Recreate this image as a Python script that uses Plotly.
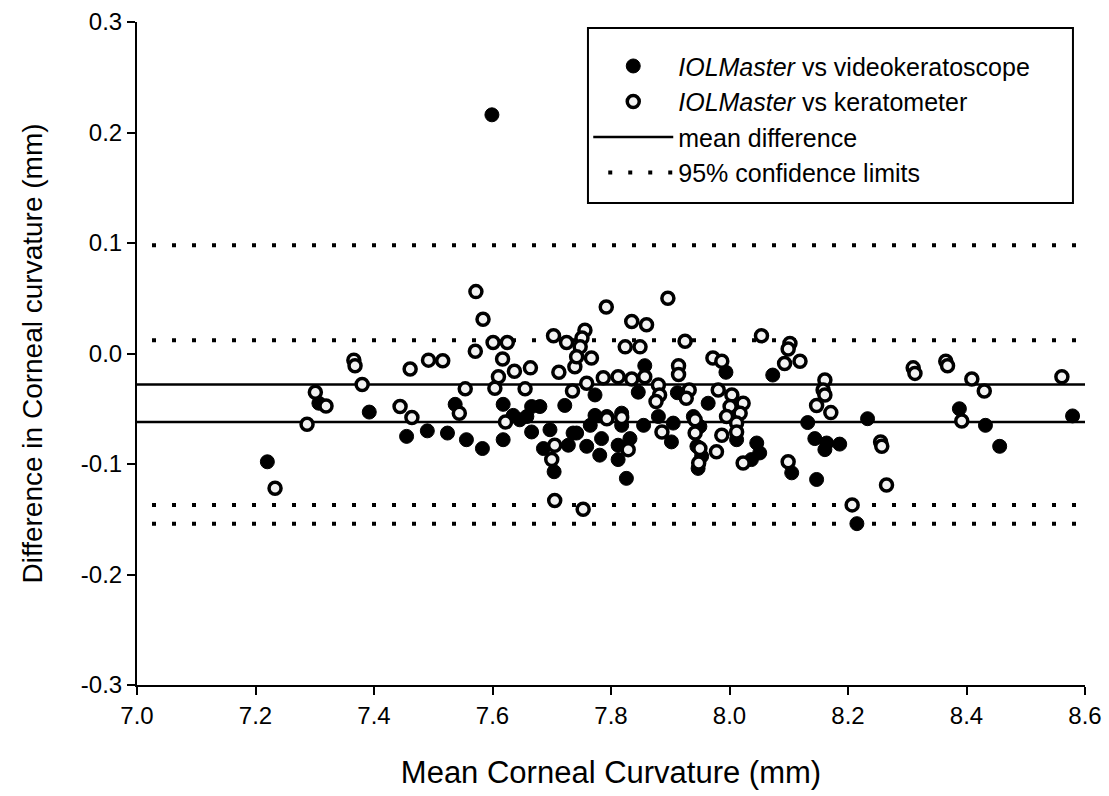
import plotly.graph_objects as go

# IOLMaster vs videokeratoscope (filled)
vk_x = [7.22, 7.307, 7.392, 7.455, 7.49, 7.524, 7.537, 7.556, 7.583, 7.599, 7.618, 7.618,
        7.635, 7.646, 7.658, 7.666, 7.680, 7.666, 7.697, 7.722, 7.736, 7.686, 7.728, 7.704,
        7.742, 7.759, 7.784, 7.812, 7.832, 7.781, 7.812, 7.902, 7.826, 7.945, 7.953, 7.947,
        8.012, 8.046, 8.037, 8.051, 7.773, 7.765, 7.793, 7.818, 7.818, 7.855, 7.880, 7.905,
        7.939, 7.950, 7.994, 7.857, 7.846, 7.773, 7.912, 7.964, 8.073, 8.132, 8.233, 8.144,
        8.164, 8.161, 8.186, 8.105, 8.147, 8.215, 8.388, 8.432, 8.456, 8.579]
vk_y = [-0.098, -0.045, -0.053, -0.075, -0.070, -0.072, -0.046, -0.078, -0.086, 0.216, -0.046, -0.078,
        -0.056, -0.060, -0.057, -0.048, -0.048, -0.071, -0.069, -0.047, -0.072, -0.086, -0.083, -0.107,
        -0.072, -0.084, -0.077, -0.083, -0.077, -0.092, -0.096, -0.080, -0.113, -0.084, -0.093, -0.104,
        -0.078, -0.081, -0.096, -0.090, -0.056, -0.065, -0.057, -0.054, -0.065, -0.065, -0.057, -0.063,
        -0.057, -0.066, -0.017, -0.011, -0.035, -0.0375, -0.0355, -0.045, -0.0195, -0.0625, -0.059, -0.077,
        -0.081, -0.087, -0.082, -0.108, -0.114, -0.154, -0.050, -0.065, -0.084, -0.0565]

# IOLMaster vs keratometer (open)
kt_x = [7.366, 7.368, 7.380, 7.301, 7.319, 7.287, 7.233, 7.572, 7.584, 7.571, 7.601, 7.625,
        7.492, 7.516, 7.461, 7.617, 7.637, 7.664, 7.610, 7.703, 7.725, 7.712, 7.739, 7.554,
        7.604, 7.655, 7.735, 7.444, 7.464, 7.544, 7.622, 7.705, 7.700, 7.705, 7.753, 7.792,
        7.896, 7.835, 7.860, 7.756, 7.751, 7.748, 7.824, 7.849, 7.925, 8.054, 7.742, 7.767,
        7.972, 7.987, 7.914, 7.914, 7.787, 7.812, 7.835, 7.857, 7.759, 7.880, 7.882, 7.876,
        7.932, 7.927, 7.981, 8.004, 8.023, 8.001, 8.018, 7.995, 8.012, 7.793, 7.818, 7.942,
        7.886, 7.942, 7.829, 7.950, 7.948, 7.978, 7.987, 8.012, 8.023, 8.102, 8.099, 8.093,
        8.119, 8.310, 8.313, 8.161, 8.158, 8.161, 8.147, 8.171, 8.255, 8.257, 8.099, 8.265,
        8.207, 8.365, 8.368, 8.409, 8.430, 8.561, 8.392]
kt_y = [-0.006, -0.011, -0.028, -0.035, -0.0475, -0.064, -0.122, 0.056, 0.031, 0.002, 0.010, 0.010,
        -0.006, -0.0065, -0.014, -0.005, -0.016, -0.013, -0.021, 0.016, 0.010, -0.017, -0.012, -0.032,
        -0.0315, -0.032, -0.034, -0.048, -0.058, -0.054, -0.062, -0.083, -0.096, -0.133, -0.141, 0.042,
        0.050, 0.029, 0.026, 0.021, 0.014, 0.006, 0.006, 0.006, 0.011, 0.016, -0.003, -0.004,
        -0.004, -0.007, -0.011, -0.019, -0.022, -0.021, -0.023, -0.021, -0.027, -0.0285, -0.0375, -0.0435,
        -0.033, -0.0405, -0.033, -0.0375, -0.045, -0.048, -0.054, -0.057, -0.063, -0.059, -0.058, -0.060,
        -0.071, -0.072, -0.087, -0.086, -0.099, -0.089, -0.074, -0.071, -0.099, 0.009, 0.004, -0.009,
        -0.007, -0.013, -0.018, -0.024, -0.033, -0.0375, -0.047, -0.0535, -0.080, -0.084, -0.098, -0.119,
        -0.137, -0.007, -0.011, -0.023, -0.034, -0.021, -0.061]

# Reference lines
line_x = [7.0, 8.6]
mean_kt = -0.028
limits_kt = [0.098, -0.154]
mean_vk = -0.062
limits_vk = [0.012, -0.137]

x_ticks = [7.0, 7.2, 7.4, 7.6, 7.8, 8.0, 8.2, 8.4, 8.6]
y_ticks = [-0.3, -0.2, -0.1, 0.0, 0.1, 0.2, 0.3]

FONT = "Liberation Sans, Arial, sans-serif"
DOT = "0px,15px,4px,1px"

fig = go.Figure()

# limit lines
first = True
for lim in limits_kt + limits_vk:
    fig.add_trace(go.Scatter(
        x=line_x, y=[lim, lim], mode="lines",
        line=dict(color="black", width=4, dash=DOT),
        name="95% confidence limits", legendgroup="lim", legendrank=4,
        showlegend=first, hoverinfo="skip"))
    first = False

# mean lines
first = True
for m in [mean_kt, mean_vk]:
    fig.add_trace(go.Scatter(
        x=line_x, y=[m, m], mode="lines",
        line=dict(color="black", width=2.5),
        name="mean difference", legendgroup="mean", legendrank=3,
        showlegend=first))
    first = False

fig.add_trace(go.Scatter(
    x=vk_x, y=vk_y, mode="markers",
    marker=dict(symbol="circle", size=14, color="black", line=dict(color="black", width=1)),
    name="<i>IOLMaster</i> vs videokeratoscope", legendgroup="vk", legendrank=1))

fig.add_trace(go.Scatter(
    x=kt_x, y=kt_y, mode="markers",
    marker=dict(symbol="circle", size=12, color="#f2f2f2", line=dict(color="black", width=3.5)),
    name="<i>IOLMaster</i> vs keratometer", legendgroup="kt", legendrank=2))

axis_common = dict(
    showline=True, linecolor="black", linewidth=2,
    ticks="outside", ticklen=8, tickwidth=2, tickcolor="black",
    showgrid=False, zeroline=False, mirror=False,
    tickfont=dict(family=FONT, size=24, color="black"),
)

fig.update_layout(
    width=1109, height=796,
    paper_bgcolor="white", plot_bgcolor="white",
    margin=dict(l=137, r=24, t=22, b=111, autoexpand=False),
    font=dict(family=FONT, color="black"),
    xaxis=dict(range=[7.0, 8.6], tickvals=x_ticks, ticktext=[f"{v:.1f}" for v in x_ticks],
               title=dict(text="Mean Corneal Curvature (mm)", font=dict(family=FONT, size=31), standoff=34),
               **axis_common),
    yaxis=dict(range=[-0.3, 0.3], tickvals=y_ticks, ticktext=[f"{v:.1f}" for v in y_ticks],
               title=dict(text="Difference in Corneal curvature (mm)", font=dict(family=FONT, size=28), standoff=30),
               **axis_common),
    legend=dict(x=0.476, y=0.968, xanchor="left", yanchor="top",
                bgcolor="rgba(0,0,0,0)", borderwidth=0,
                font=dict(family=FONT, size=25, color="black"),
                itemwidth=80, tracegroupgap=0, traceorder="grouped"),
    shapes=[dict(type="rect", xref="paper", yref="paper",
                 x0=0.4757, x1=0.9873, y0=0.727, y1=0.991,
                 line=dict(color="black", width=2), fillcolor="white", layer="below")],
    showlegend=True,
)

fig.write_html("out.html")
